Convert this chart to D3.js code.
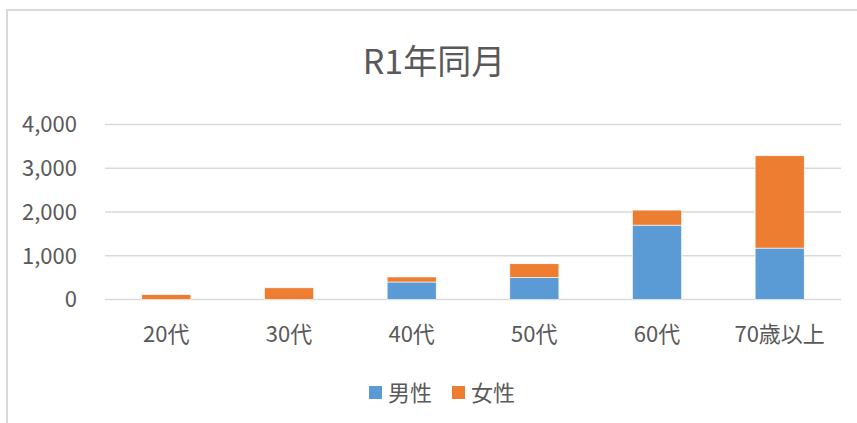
<!DOCTYPE html>
<html>
<head>
<meta charset="utf-8">
<script src="https://cdn.jsdelivr.net/npm/d3@7"></script>
<style>
  body { margin: 0; background: #fff; }
  text { font-family: "Noto Sans CJK JP", "Noto Sans", sans-serif; fill: #595959; }
</style>
</head>
<body>
<div id="chart"></div>
<script>
// Data
const categories = ["20代", "30代", "40代", "50代", "60代", "70歳以上"];
const seriesNames = ["男性", "女性"];
const male = [0, 0, 400, 505, 1700, 1175];
const female = [112, 267, 115, 312, 343, 2110];
const yTicks = [0, 1000, 2000, 3000, 4000];
const colors = ["#5B9BD5", "#ED7D31"];

const width = 857, height = 423;
const margin = { left: 105, right: 16, top: 124.5, bottom: 123.5 };

const svg = d3.select("#chart").append("svg")
  .attr("width", width)
  .attr("height", height);

// chart border (only left and top visible)
svg.append("rect")
  .attr("x", 7).attr("y", 10)
  .attr("width", 900).attr("height", 500)
  .attr("fill", "none")
  .attr("stroke", "#d9d9d9")
  .attr("stroke-width", 2);

const x = d3.scaleBand()
  .domain(categories)
  .range([margin.left, width - margin.right])
  .paddingInner(0.6)
  .paddingOuter(0.3);

const y = d3.scaleLinear()
  .domain([0, 4000])
  .range([height - margin.bottom, margin.top]);

// gridlines
svg.append("g")
  .selectAll("line")
  .data(yTicks)
  .enter()
  .append("line")
  .attr("x1", margin.left)
  .attr("x2", width - margin.right)
  .attr("y1", d => y(d))
  .attr("y2", d => y(d))
  .attr("stroke", "#d9d9d9")
  .attr("stroke-width", 1.5);

// y labels
svg.append("g")
  .selectAll("text")
  .data(yTicks)
  .enter()
  .append("text")
  .attr("x", 77)
  .attr("y", d => y(d))
  .attr("dy", "0.36em")
  .attr("text-anchor", "end")
  .style("font-size", "22px")
  .text(d => d3.format(",")(d));

// stacked bars
const rows = categories.map((c, i) => ({ cat: c, male: male[i], female: female[i] }));
const stacked = d3.stack().keys(["male", "female"])(rows);

svg.append("g")
  .selectAll("g")
  .data(stacked)
  .enter()
  .append("g")
  .attr("fill", (d, i) => colors[i])
  .selectAll("rect")
  .data(d => d)
  .enter()
  .append("rect")
  .attr("x", d => x(d.data.cat))
  .attr("width", x.bandwidth())
  .attr("y", d => y(d[1]))
  .attr("height", d => y(d[0]) - y(d[1]))
  .attr("stroke", "#fff")
  .attr("stroke-width", 0.6);

// x labels
svg.append("g")
  .selectAll("text")
  .data(categories)
  .enter()
  .append("text")
  .attr("x", d => x(d) + x.bandwidth() / 2)
  .attr("y", 334)
  .attr("dy", "0.36em")
  .attr("text-anchor", "middle")
  .style("font-size", "22px")
  .text(d => d);

// title
svg.append("text")
  .attr("x", 434)
  .attr("y", 62)
  .attr("dy", "0.36em")
  .attr("text-anchor", "middle")
  .style("font-size", "34px")
  .text("R1年同月");

// legend
const legendX = [369, 452];
const legend = svg.append("g")
  .selectAll("g")
  .data(seriesNames)
  .enter()
  .append("g")
  .attr("transform", (d, i) => `translate(${legendX[i]},393)`);

legend.append("rect")
  .attr("x", 0).attr("y", -7)
  .attr("width", 13).attr("height", 13)
  .attr("fill", (d, i) => colors[i]);

legend.append("text")
  .attr("x", 19)
  .attr("y", 0)
  .attr("dy", "0.36em")
  .style("font-size", "22px")
  .text(d => d);
</script>
</body>
</html>
